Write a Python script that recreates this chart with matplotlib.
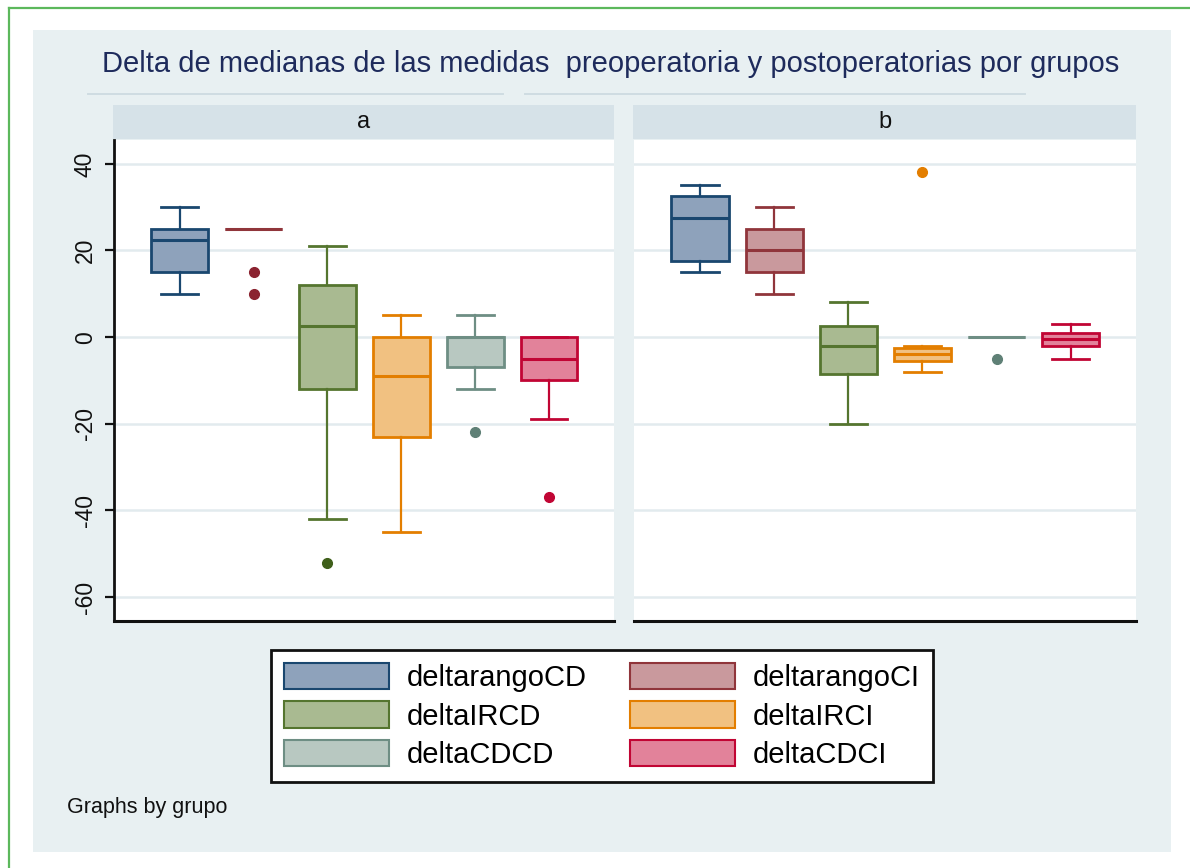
import matplotlib
matplotlib.use('Agg')
import matplotlib.pyplot as plt
from matplotlib.patches import Rectangle, Patch
from matplotlib.lines import Line2D

plt.rcParams['font.family'] = ['Liberation Sans', 'DejaVu Sans']
plt.rcParams['axes.unicode_minus'] = False

W, H = 1190, 868

title = "Delta de medianas de las medidas  preoperatoria y postoperatorias por grupos"
footer = "Graphs by grupo"
groups = ['a', 'b']
series = ['deltarangoCD', 'deltarangoCI', 'deltaIRCD', 'deltaIRCI', 'deltaCDCD', 'deltaCDCI']
edge_colors = ['#1a476f', '#90353b', '#55752f', '#e37e00', '#6e8e84', '#c10534']
fill_colors = ['#8ea2bb', '#c9999d', '#a9ba91', '#f1c181', '#b8c8c1', '#e2829a']
flier_colors = ['#1a476f', '#8b2330', '#3f5f1a', '#e37e00', '#5f8076', '#c10534']

# group a
a_whislo = [10, 25, -42, -45, -12, -19]
a_q1 = [15, 25, -12, -23, -7, -10]
a_med = [22.5, 25, 2.5, -9, 0, -5]
a_q3 = [25, 25, 12, 0, 0, 0]
a_whishi = [30, 25, 21, 5, 5, 0]
a_fliers = [[], [15, 10], [-52], [], [-22], [-37]]

# group b
b_whislo = [15, 10, -20, -8, 0, -5]
b_q1 = [17.5, 15, -8.5, -5.5, 0, -2]
b_med = [27.5, 20, -2, -4, 0, -0.5]
b_q3 = [32.5, 25, 2.5, -2.5, 0, 1]
b_whishi = [35, 30, 8, -2, 0, 3]
b_fliers = [[], [], [], [38], [-5], []]

yticks = [40, 20, 0, -20, -40, -60]

REGION = '#e8f0f2'
STRIP = '#d6e2e8'
GRID = '#e2ebee'


def frac(x0, y0, x1, y1):
    return [x0 / W, 1 - y1 / H, (x1 - x0) / W, (y1 - y0) / H]


fig = plt.figure(figsize=(W / 100, H / 100), dpi=100, facecolor='white')

# graph region background
fig.patches.append(Rectangle((33 / W, 1 - 852 / H), (1171 - 33) / W, (852 - 30) / H,
                             transform=fig.transFigure, facecolor=REGION, edgecolor='none', zorder=-5))
# green frame
fig.lines.append(Line2D([9 / W, 9 / W], [0, 1 - 8 / H], transform=fig.transFigure,
                        color='#5cb85c', lw=1.6, zorder=-4))
fig.lines.append(Line2D([9 / W, 1], [1 - 8 / H, 1 - 8 / H], transform=fig.transFigure,
                        color='#5cb85c', lw=1.6, zorder=-4))

# title
fig.text(611 / W, 1 - 64 / H, title, ha='center', va='center', fontsize=21, color='#1e2b5c')
fig.lines.append(Line2D([88 / W, 503 / W], [1 - 94 / H] * 2, transform=fig.transFigure,
                        color='#cfdce2', lw=1.4, zorder=-4))
fig.lines.append(Line2D([525 / W, 1025 / W], [1 - 94 / H] * 2, transform=fig.transFigure,
                        color='#cfdce2', lw=1.4, zorder=-4))

panels = [
    (groups[0], (114, 140, 614, 621), a_whislo, a_q1, a_med, a_q3, a_whishi, a_fliers, True),
    (groups[1], (634, 140, 1136, 621), b_whislo, b_q1, b_med, b_q3, b_whishi, b_fliers, False),
]

for name, (x0, y0, x1, y1), wl, q1, med, q3, wh, fl, show_y in panels:
    # strip
    fig.patches.append(Rectangle(((x0 - 1) / W, 1 - 139 / H), (x1 - x0 + 1) / W, (139 - 105) / H,
                                 transform=fig.transFigure, facecolor=STRIP, edgecolor='none', zorder=-3))
    fig.text((x0 + x1) / 2 / W, 1 - 122 / H, name, ha='center', va='center', fontsize=17, color='#111111')

    ax = fig.add_axes(frac(x0, y0, x1, y1))
    ax.set_facecolor('white')
    stats = []
    for i in range(len(series)):
        stats.append(dict(whislo=wl[i], q1=q1[i], med=med[i], q3=q3[i], whishi=wh[i],
                          fliers=fl[i], label=series[i]))
    art = ax.bxp(stats, positions=range(1, len(series) + 1), widths=0.77, capwidths=0.5,
                 patch_artist=True, showfliers=True)
    for i in range(len(series)):
        box = art['boxes'][i]
        box.set_facecolor(fill_colors[i])
        box.set_edgecolor(edge_colors[i])
        box.set_linewidth(2.0)
        art['medians'][i].set_color(edge_colors[i])
        art['medians'][i].set_linewidth(2.2)
        for j in (2 * i, 2 * i + 1):
            art['whiskers'][j].set_color(edge_colors[i])
            art['whiskers'][j].set_linewidth(1.6)
            art['caps'][j].set_color(edge_colors[i])
            art['caps'][j].set_linewidth(2.0)
        f = art['fliers'][i]
        f.set_marker('o')
        f.set_markersize(7)
        f.set_markerfacecolor(flier_colors[i])
        f.set_markeredgecolor(flier_colors[i])

    ax.set_xlim(0.11, 6.88)
    ax.set_ylim(-65.5, 45.5)
    ax.set_yticks(yticks)
    ax.set_xticks([])
    ax.set_axisbelow(True)
    ax.yaxis.grid(True, color=GRID, lw=1.8)
    for s in ('top', 'right'):
        ax.spines[s].set_visible(False)
    ax.spines['bottom'].set_linewidth(2.2)
    ax.spines['bottom'].set_color('#111111')
    if show_y:
        ax.spines['left'].set_linewidth(2.0)
        ax.spines['left'].set_color('#111111')
        ax.tick_params(axis='y', length=6.5, width=1.6, pad=6, labelsize=16.5,
                       labelrotation=90, colors='#111111')
        for lab in ax.get_yticklabels():
            lab.set_va('center')
    else:
        ax.spines['left'].set_visible(False)
        ax.tick_params(axis='y', left=False, labelleft=False)

handles = [Patch(facecolor=fill_colors[i], edgecolor=edge_colors[i], lw=1.5, label=series[i])
           for i in range(len(series))]
order = [0, 2, 4, 1, 3, 5]
leg = fig.legend(handles=[handles[i] for i in order], ncol=2, loc='center',
                 bbox_to_anchor=(602 / W, 1 - 716 / H), fontsize=21, frameon=True,
                 fancybox=False, edgecolor='#111111', facecolor='white', framealpha=1,
                 handlelength=3.6, handleheight=1.0, handletextpad=0.6,
                 columnspacing=1.5, labelspacing=0.32, borderpad=0.45)
leg.get_frame().set_linewidth(2.0)

fig.text(67 / W, 1 - 808 / H, footer, ha='left', va='center', fontsize=15.5, color='#111111')

fig.savefig('out.png', dpi=100, facecolor='white')
